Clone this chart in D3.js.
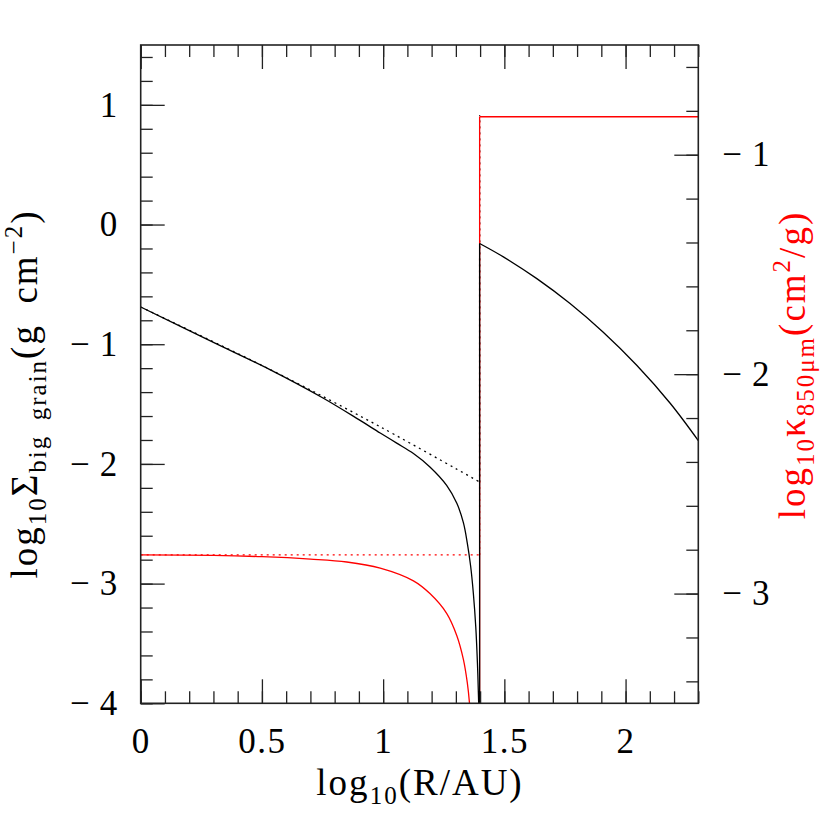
<!DOCTYPE html>
<html>
  <head>
    <title>Big grain surface density and opacity</title>
    <meta charset="utf-8">
    <script type="text/javascript" src="https://d3js.org/d3.v7.min.js"></script>
    <style>
      body { margin: 0; background: #fff; }
      text { font-family: "Liberation Serif", "DejaVu Serif", serif; }
    </style>
  </head>
  <body>
    <div><svg></svg></div>

    <script type="text/javascript">
      "use strict";

      // black solid: big-grain surface density, inside and outside the jump (R = 25 AU)
      var sigmaInX = [0, 0.3, 0.533, 0.75, 0.9, 0.988, 1.056, 1.125, 1.193, 1.262, 1.304,
                      1.331, 1.347, 1.361, 1.372, 1.382, 1.389, 1.394, 1.398];
      var sigmaIn  = [-0.689, -0.985, -1.212, -1.447, -1.630, -1.742, -1.826, -1.913, -2.025, -2.179, -2.329,
                      -2.491, -2.659, -2.855, -3.078, -3.358, -3.665, -3.995, -4.5];
      var sigmaOutX = [1.398, 1.496, 1.634, 1.771, 1.908, 2.046, 2.184, 2.3];
      var sigmaOut  = [-0.158, -0.270, -0.452, -0.660, -0.900, -1.176, -1.493, -1.805];

      // black dotted: reference profile, then the jump
      var sigmaRefX = [0, 0.533, 0.988, 1.398, 1.398];
      var sigmaRef  = [-0.689, -1.21, -1.69, -2.151, 0.914];

      // red solid: opacity (right axis)
      var kappaInX = [0, 0.3, 0.5, 0.7, 0.85, 0.988, 1.125, 1.193, 1.262, 1.304,
                      1.331, 1.347, 1.356, 1.362, 1.398];
      var kappaIn  = [-2.824, -2.826, -2.832, -2.843, -2.856, -2.884, -2.942, -3.000, -3.090, -3.192,
                      -3.300, -3.405, -3.497, -3.6, -3.6];
      var kappaOutX = [1.398, 2.3];
      var kappaOut  = [-0.827, -0.827];

      // red dotted: constant opacity, then the jump
      var kappaRefX = [0, 1.398, 1.398];
      var kappaRef  = [-2.824, -2.824, -0.827];

      var xTicks = [0, 0.5, 1, 1.5, 2];
      var leftTicks = [-4, -3, -2, -1, 0, 1];
      var rightTicks = [-3, -2, -1];

      var W = 830, H = 830;
      var m = { left: 140.7, top: 45, right: 131.7, bottom: 126.7 };
      var iw = W - m.left - m.right,
          ih = H - m.top - m.bottom;

      var svg = d3.select('svg')
                  .attr('width', W)
                  .attr('height', H);

      var x = d3.scaleLinear().domain([0, 2.3]).range([0, iw]);
      var yL = d3.scaleLinear().domain([-4, 1.5]).range([ih, 0]);
      var yR = d3.scaleLinear().domain([-3.5, -0.5]).range([ih, 0]);

      var g = svg.append('g')
                 .attr('transform', 'translate(' + m.left + ',' + m.top + ')');

      g.append('clipPath').attr('id', 'clip')
       .append('rect').attr('width', iw).attr('height', ih);

      function pairs(xs, ys) {
        return xs.map(function(d, i) { return [d, ys[i]]; });
      }

      function makeLine(y, curve) {
        return d3.line().x(function(d) { return x(d[0]); })
                        .y(function(d) { return y(d[1]); })
                        .curve(curve);
      }

      var plot = g.append('g').attr('clip-path', 'url(#clip)');

      function draw(d, color, dashed) {
        var p = plot.append('path')
                    .attr('d', d)
                    .attr('fill', 'none')
                    .attr('stroke', color)
                    .attr('stroke-width', 1.3);
        if (dashed) p.attr('stroke-dasharray', '2,4');
      }

      // smooth curve inside, straight jump, smooth curve outside
      function drawJumped(xIn, vIn, xOut, vOut, y, color) {
        var smooth = makeLine(y, d3.curveCatmullRom.alpha(0.5)),
            straight = makeLine(y, d3.curveLinear);
        var a = pairs(xIn, vIn), b = pairs(xOut, vOut);
        draw(smooth(a), color);
        draw(straight([a[a.length - 1], b[0]]), color);
        draw(smooth(b), color);
      }

      // dotted: smooth run, then the straight vertical jump
      function drawRef(xs, vs, y, color) {
        var a = pairs(xs, vs), n = a.length;
        draw(makeLine(y, d3.curveCatmullRom.alpha(0.5))(a.slice(0, n - 1)), color, true);
        draw(makeLine(y, d3.curveLinear)(a.slice(n - 2)), color, true);
      }

      drawRef(kappaRefX, kappaRef, yR, '#ff0000');
      drawRef(sigmaRefX, sigmaRef, yL, '#000');
      drawJumped(kappaInX, kappaIn, kappaOutX, kappaOut, yR, '#ff0000');
      drawJumped(sigmaInX, sigmaIn, sigmaOutX, sigmaOut, yL, '#000');

      // tick labels: minus sign with a thin gap, like the original
      function fmt(d) {
        return d < 0 ? '\u2212\u2009' + Math.abs(d) : String(d);
      }

      function styleAxis(sel) {
        sel.select('.domain').remove();
        sel.selectAll('line').attr('stroke', '#222').attr('stroke-width', 1.3);
        sel.selectAll('text').attr('font-size', 35).attr('fill', '#000')
           .attr('letter-spacing', 1.5)
           .attr('font-family', '"Liberation Serif", serif');
      }

      var minorX = d3.range(0, 2.31, 0.1);
      var minorL = d3.range(-4, 1.51, 0.2);
      var minorR = d3.range(-3.4, -0.5, 0.2);

      // minor ticks, all four sides
      g.append('g').attr('transform', 'translate(0,' + ih + ')')
       .call(d3.axisBottom(x).tickValues(minorX).tickSize(-12).tickFormat(''))
       .call(styleAxis);
      g.append('g')
       .call(d3.axisTop(x).tickValues(minorX).tickSize(-12).tickFormat(''))
       .call(styleAxis);
      g.append('g')
       .call(d3.axisLeft(yL).tickValues(minorL).tickSize(-12).tickFormat(''))
       .call(styleAxis);
      g.append('g').attr('transform', 'translate(' + iw + ',0)')
       .call(d3.axisRight(yR).tickValues(minorR).tickSize(-12).tickFormat(''))
       .call(styleAxis);

      // major ticks with labels
      g.append('g').attr('transform', 'translate(0,' + ih + ')')
       .call(d3.axisBottom(x).tickValues(xTicks).tickSize(-24).tickPadding(25).tickFormat(fmt))
       .call(styleAxis);
      g.append('g')
       .call(d3.axisTop(x).tickValues(xTicks).tickSize(-24).tickFormat(''))
       .call(styleAxis);
      g.append('g')
       .call(d3.axisLeft(yL).tickValues(leftTicks).tickSize(-24).tickPadding(22).tickFormat(fmt))
       .call(styleAxis);
      g.append('g').attr('transform', 'translate(' + iw + ',0)')
       .call(d3.axisRight(yR).tickValues(rightTicks).tickSize(-24).tickPadding(24).tickFormat(fmt))
       .call(styleAxis);

      // frame
      g.append('rect')
       .attr('width', iw).attr('height', ih)
       .attr('fill', 'none').attr('stroke', '#222').attr('stroke-width', 1.6);

      // axis titles with sub/superscripts
      function title(parent, parts, color) {
        var t = parent.append('text')
                      .attr('text-anchor', 'middle')
                      .attr('font-size', 37)
                      .attr('letter-spacing', 2)
                      .attr('fill', color);
        var shift = 0;
        parts.forEach(function(p) {
          var dy = 0, size = null;
          if (p[1] === 'sub') { dy = 9 - shift; shift = 9; size = 25; }
          else if (p[1] === 'sup') { dy = -15 - shift; shift = -15; size = 25; }
          else { dy = -shift; shift = 0; }
          var s = t.append('tspan').attr('dy', dy).text(p[0]);
          if (size) s.attr('font-size', size);
        });
        return t;
      }

      title(svg.append('g').attr('transform', 'translate(420,795)'),
            [['log'], ['10', 'sub'], ['(R/AU)']], '#000');

      title(svg.append('g').attr('transform', 'translate(37,394) rotate(-90)'),
            [['log'], ['10', 'sub'], ['\u03a3'], ['big\u2002grain', 'sub'], ['(g\u2002cm'], ['\u22122', 'sup'], [')']],
            '#000');

      title(svg.append('g').attr('transform', 'translate(805,365) rotate(-90)'),
            [['log'], ['10', 'sub'], ['\u03ba'], ['850\u03bcm', 'sub'], ['(cm'], ['2', 'sup'], ['/g)']],
            '#ff0000');
    </script>
  </body>
</html>
